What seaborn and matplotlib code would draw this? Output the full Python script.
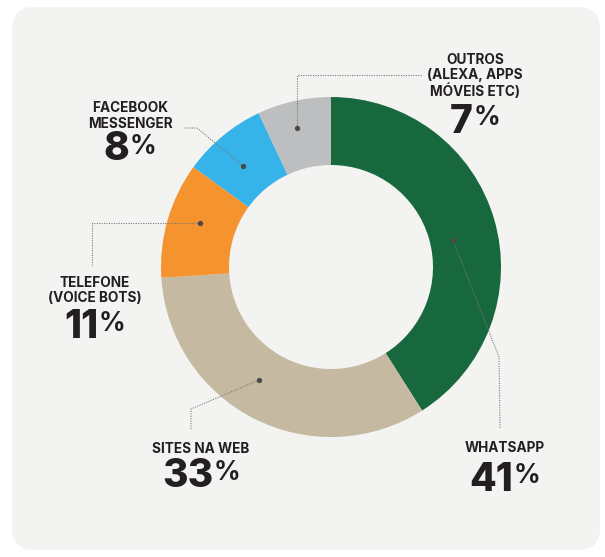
import matplotlib
matplotlib.use("Agg")
import matplotlib.pyplot as plt
import seaborn as sns
from matplotlib.patches import FancyBboxPatch

# ---- data ----
categories = ["WHATSAPP", "SITES NA WEB", "TELEFONE\n(VOICE BOTS)",
              "FACEBOOK\nMESSENGER", "OUTROS\n(ALEXA, APPS\nMÓVEIS ETC)"]
values = [41, 33, 11, 8, 7]
pct_labels = ["41", "33", "11", "8", "7"]
colors = ["#17683d", "#c5b9a1", "#f5932f", "#36b3e8", "#bdbec0"]

# ---- layout (pixel coords, y measured from top) ----
W, H = 605, 557
def Y(py):
    return H - py

CENTER = (331, 267)
R_OUT = 170
RING = 68

# label group: x center, label text center y, number baseline y, number top y
label_pos = [
    (505, 448, 491, 463),
    (201, 449, 487, 460),
    (95, 290.5, 338, 311),
    (130, 116, 160, 134),
    (475, 76, 133, 105),
]
leaders = [
    [(453, 240), (499, 357), (500, 428)],
    [(259, 380), (191, 409), (191, 430)],
    [(200, 223), (92, 223), (92, 265)],
    [(243, 166), (197, 128), (183, 128)],
    [(297, 128), (297, 75), (422, 75)],
]

sns.set_theme(style="white")
plt.rcParams["font.family"] = ["Inter", "DejaVu Sans"]

fig = plt.figure(figsize=(W / 100, H / 100), dpi=100, facecolor="white")
ax = fig.add_axes([0, 0, 1, 1])
ax.set_facecolor("none")

bg = FancyBboxPatch((12, Y(550)), 588, 543,
                    boxstyle="round,pad=0,rounding_size=22",
                    fc="#f3f3f1", ec="none", zorder=0)
ax.add_patch(bg)

ax.pie(values, colors=colors, startangle=90, counterclock=False,
       center=(CENTER[0], Y(CENTER[1])), radius=R_OUT,
       wedgeprops=dict(width=RING, edgecolor="none", linewidth=0),
       frame=True)
ax.set_xlim(0, W)
ax.set_ylim(0, H)
ax.set_aspect("equal")
ax.axis("off")

TXT = "#231f20"
for pts in leaders:
    xs = [p[0] for p in pts]
    ys = [Y(p[1]) for p in pts]
    ax.plot(xs, ys, ls=(0, (1, 1.2)), color="#7a7a7a", lw=0.8, zorder=3)
    ax.plot([xs[0]], [ys[0]], "o", ms=2.8, color="#4a4a4a", zorder=4)

renderer = fig.canvas.get_renderer()
for cat, num, (cx, ly, nb, nt) in zip(categories, pct_labels, label_pos):
    ax.text(cx, Y(ly), cat, ha="center", va="center", fontsize=9.8,
            fontweight="bold", color=TXT, linespacing=1.1, zorder=5)
    tn = ax.text(0, Y(nb), num, ha="left", va="baseline", fontsize=28,
                 fontweight="heavy", color=TXT, zorder=5)
    tp = ax.text(0, Y(nt + 20), "%", ha="left", va="baseline", fontsize=19,
                 fontweight="bold", color=TXT, zorder=5)
    wn = tn.get_window_extent(renderer).width
    wp = tp.get_window_extent(renderer).width
    gap = 0.5
    x0 = cx - (wn + wp + gap) / 2
    tn.set_x(x0)
    tp.set_x(x0 + wn + gap)

fig.savefig("out.png", dpi=100, facecolor="white")
